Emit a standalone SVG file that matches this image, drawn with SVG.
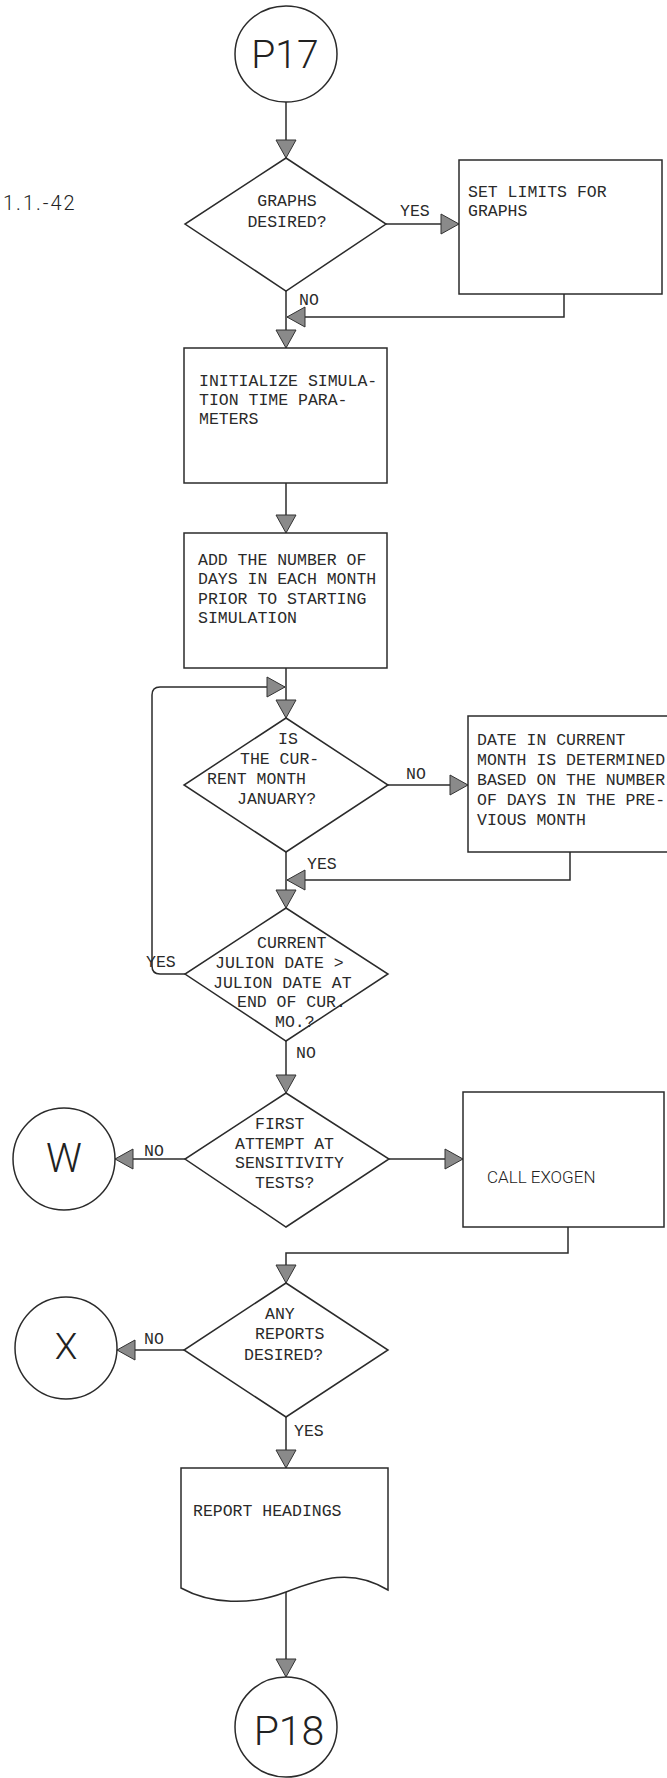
<svg xmlns="http://www.w3.org/2000/svg" width="667" height="1778" viewBox="0 0 667 1778">
<style>
.n{fill:#fff;stroke:#2b2b2b;stroke-width:1.5}
.c{fill:none;stroke:#2b2b2b;stroke-width:1.5}
.t{font-family:"Liberation Mono","Courier New",monospace;font-size:16.5px;fill:#2a2a2a}
.m{text-anchor:middle}
.s{font-family:Roboto,"Liberation Sans",sans-serif;font-weight:300;fill:#222}
</style>
<defs>
<marker id="ah" markerUnits="userSpaceOnUse" markerWidth="22" markerHeight="24" refX="19" refY="11" orient="auto">
<path d="M1,1 L19,11 L1,21 Z" fill="#8a8a8a" stroke="#333" stroke-width="1"/>
</marker>
</defs>
<rect width="667" height="1778" fill="#fff"/>
<text class="s" x="3" y="210" font-size="20" letter-spacing="2">1.1.-42</text>

<g id="connectors">
<path class="c" marker-end="url(#ah)" d="M286,102 V158"/>
<path class="c" marker-end="url(#ah)" d="M386,224 H459"/>
<path class="c" marker-end="url(#ah)" d="M286,291 V348"/>
<path class="c" marker-end="url(#ah)" d="M564,294 V317 H287"/>
<path class="c" marker-end="url(#ah)" d="M286,483 V533"/>
<path class="c" marker-end="url(#ah)" d="M286,668 V718"/>
<path class="c" marker-end="url(#ah)" d="M388,785 H468"/>
<path class="c" marker-end="url(#ah)" d="M286,852 V908"/>
<path class="c" marker-end="url(#ah)" d="M570,852 V880 H287"/>
<path class="c" marker-end="url(#ah)" d="M185,974 H160 Q152,974 152,966 V695 Q152,687 160,687 H285"/>
<path class="c" marker-end="url(#ah)" d="M286,1041 V1093"/>
<path class="c" marker-end="url(#ah)" d="M185,1159 H115"/>
<path class="c" marker-end="url(#ah)" d="M389,1159 H463"/>
<path class="c" marker-end="url(#ah)" d="M568,1227 V1253 H286 V1283"/>
<path class="c" marker-end="url(#ah)" d="M184,1350 H117"/>
<path class="c" marker-end="url(#ah)" d="M286,1417 V1468"/>
<path class="c" marker-end="url(#ah)" d="M286,1592 V1677"/>
<text class="t" x="400" y="216">YES</text>
<text class="t" x="299" y="305">NO</text>
<text class="t" x="406" y="779">NO</text>
<text class="t" x="307" y="869">YES</text>
<text class="t" x="146" y="967">YES</text>
<text class="t" x="296" y="1058">NO</text>
<text class="t" x="144" y="1156">NO</text>
<text class="t" x="144" y="1344">NO</text>
<text class="t" x="294" y="1436">YES</text>
</g>

<g id="p17">
<ellipse class="n" cx="286" cy="54" rx="51" ry="48"/>
<text class="s m" x="285" y="68" font-size="39">P17</text>
</g>

<g id="graphs-desired">
<polygon class="n" points="286,158 386,224 286,291 185,224"/>
<text class="t m" x="287" y="206">GRAPHS</text>
<text class="t m" x="287" y="227">DESIRED?</text>
</g>

<g id="set-limits">
<rect class="n" x="459" y="160" width="203" height="134"/>
<text class="t" x="468" y="197">SET LIMITS FOR</text>
<text class="t" x="468" y="216">GRAPHS</text>
</g>

<g id="initialize">
<rect class="n" x="184" y="348" width="203" height="135"/>
<text class="t" x="199" y="386">INITIALIZE SIMULA-</text>
<text class="t" x="199" y="405">TION TIME PARA-</text>
<text class="t" x="199" y="424">METERS</text>
</g>

<g id="add-days">
<rect class="n" x="184" y="533" width="203" height="135"/>
<text class="t" x="198" y="565">ADD THE NUMBER OF</text>
<text class="t" x="198" y="584">DAYS IN EACH MONTH</text>
<text class="t" x="198" y="604">PRIOR TO STARTING</text>
<text class="t" x="198" y="623">SIMULATION</text>
</g>

<g id="is-january">
<polygon class="n" points="286,718 388,785 286,852 184,785"/>
<text class="t" x="278" y="744">IS</text>
<text class="t" x="240" y="764">THE CUR-</text>
<text class="t" x="207" y="784">RENT MONTH</text>
<text class="t" x="237" y="804">JANUARY?</text>
</g>

<g id="date-in-month">
<rect class="n" x="468" y="716" width="202" height="136"/>
<text class="t" x="477" y="745">DATE IN CURRENT</text>
<text class="t" x="477" y="765">MONTH IS DETERMINED</text>
<text class="t" x="477" y="785">BASED ON THE NUMBER</text>
<text class="t" x="477" y="805">OF DAYS IN THE PRE-</text>
<text class="t" x="477" y="825">VIOUS MONTH</text>
</g>

<g id="julion-date">
<polygon class="n" points="286,908 388,974 286,1041 185,974"/>
<text class="t" x="257" y="948">CURRENT</text>
<text class="t" x="215" y="968">JULION DATE &gt;</text>
<text class="t" x="213" y="988">JULION DATE AT</text>
<text class="t" x="237" y="1007">END OF CUR.</text>
<text class="t" x="275" y="1027">MO.?</text>
</g>

<g id="first-attempt">
<polygon class="n" points="286,1093 389,1159 286,1227 185,1159"/>
<text class="t" x="255" y="1129">FIRST</text>
<text class="t" x="235" y="1149">ATTEMPT AT</text>
<text class="t" x="235" y="1168">SENSITIVITY</text>
<text class="t" x="255" y="1188">TESTS?</text>
</g>

<g id="w">
<circle class="n" cx="64" cy="1159" r="51"/>
<text class="s m" x="64" y="1172" font-size="40">W</text>
</g>

<g id="call-exogen">
<rect class="n" x="463" y="1092" width="201" height="135"/>
<text class="s" x="487" y="1183" font-size="17">CALL EXOGEN</text>
</g>

<g id="any-reports">
<polygon class="n" points="286,1283 388,1350 286,1417 184,1350"/>
<text class="t" x="265" y="1319">ANY</text>
<text class="t" x="255" y="1339">REPORTS</text>
<text class="t" x="244" y="1360">DESIRED?</text>
</g>

<g id="x">
<circle class="n" cx="66" cy="1348" r="51"/>
<text class="s m" x="66" y="1359" font-size="37">X</text>
</g>

<g id="report-headings">
<path class="n" d="M181,1468 H388 V1590 C352,1568 322,1578 286,1592 C250,1606 210,1604 181,1588 Z"/>
<text class="t" x="193" y="1516">REPORT HEADINGS</text>
</g>

<g id="p18">
<ellipse class="n" cx="286" cy="1727" rx="51" ry="50"/>
<text class="s m" x="289" y="1745" font-size="41">P18</text>
</g>
</svg>
